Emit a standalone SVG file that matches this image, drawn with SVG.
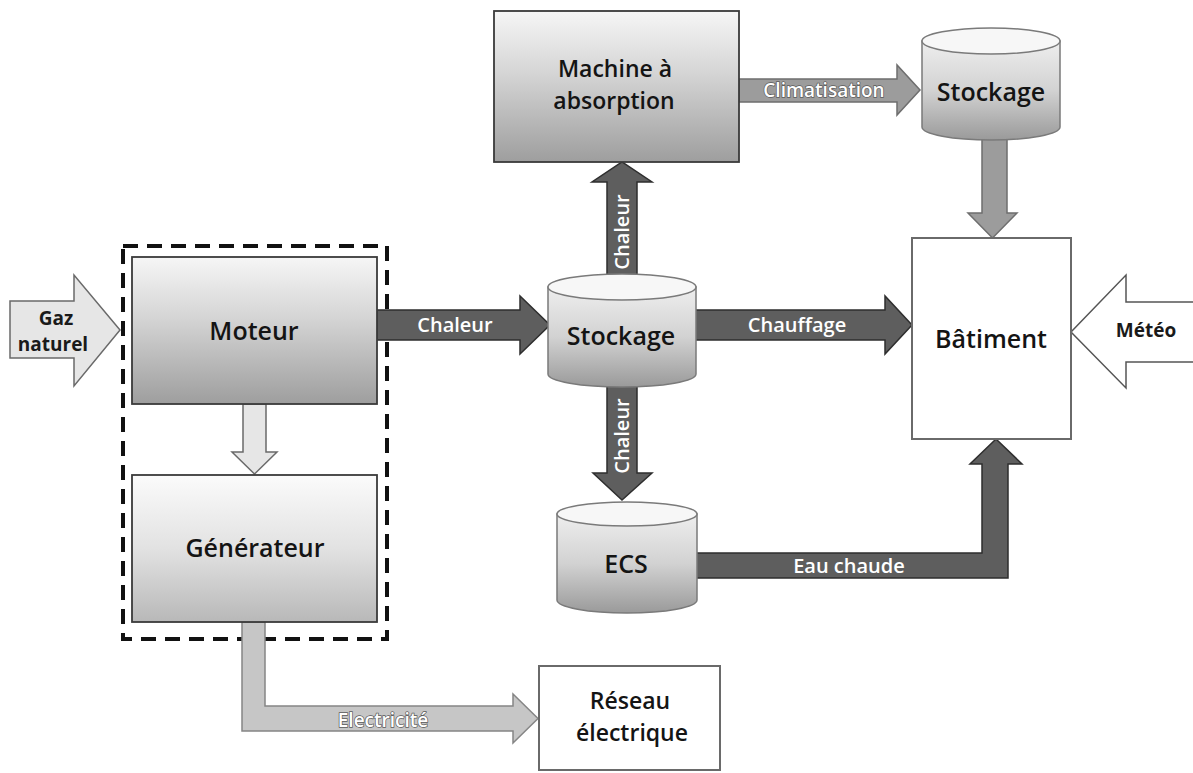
<svg xmlns="http://www.w3.org/2000/svg" width="1193" height="773" viewBox="0 0 1193 773">
<defs>
<linearGradient id="gBox" x1="0" y1="0" x2="0" y2="1">
<stop offset="0" stop-color="#f6f6f6"/><stop offset="0.4" stop-color="#d6d6d6"/><stop offset="1" stop-color="#9e9e9e"/>
</linearGradient>
<linearGradient id="gBoxL" x1="0" y1="0" x2="0" y2="1">
<stop offset="0" stop-color="#fbfbfb"/><stop offset="0.5" stop-color="#e2e2e2"/><stop offset="1" stop-color="#b8b8b8"/>
</linearGradient>
<linearGradient id="gCyl" x1="0" y1="0" x2="0" y2="1">
<stop offset="0" stop-color="#eeeeee"/><stop offset="0.5" stop-color="#d2d2d2"/><stop offset="1" stop-color="#9a9a9a"/>
</linearGradient>
<style>
.dark{fill:#5e5e5e;stroke:#2e2e2e;stroke-width:1.5}
.mid{fill:#9c9c9c;stroke:#6e6e6e;stroke-width:1.5}
.light{fill:#c6c6c6;stroke:#858585;stroke-width:1.5}
.pale{fill:#e6e6e6;stroke:#6a6a6a;stroke-width:1.5}
.white{fill:#ffffff;stroke:#555;stroke-width:1.5}
.box{fill:url(#gBox);stroke:#3a3a3a;stroke-width:1.8}
.boxl{fill:url(#gBoxL);stroke:#3a3a3a;stroke-width:1.8}
.plain{fill:#ffffff;stroke:#6a6a6a;stroke-width:2}
.cyl{fill:url(#gCyl);stroke:#7a7a7a;stroke-width:1.5}
.cyltop{fill:#f7f7f7;stroke:#7a7a7a;stroke-width:1.5}
text{font-family:"Open Sans","Liberation Sans",sans-serif;font-weight:600;text-anchor:middle}
.nl{font-size:25px;fill:#141414}
.nl2{font-size:23px;fill:#141414}
.al{font-size:20px;fill:#ffffff}
.ao{font-size:19px;fill:#ffffff;stroke:#5a5a5a;stroke-width:1.4;paint-order:stroke}
.bl{font-size:19px;fill:#1a1a1a;font-weight:700}
</style>
</defs>

<g id="cogeneration-boundary">
<rect x="123" y="246" width="264" height="393" fill="none" stroke="#111" stroke-width="4" stroke-dasharray="15 9"/>
</g>

<g id="connectors">
<g id="gaz-naturel">
<polygon class="pale" points="10,301 74,301 74,275 120,330 74,386 74,358 10,358"/>
<text class="bl" x="56" y="325">Gaz</text>
<text class="bl" x="53" y="351">naturel</text>
</g>
<g id="moteur-generateur">
<polygon class="pale" points="243,404 266,404 266,452 277,452 254.5,474 232,452 243,452"/>
</g>
<g id="chaleur-moteur">
<polygon class="dark" points="377,310 520,310 520,296 550,325 520,354 520,340 377,340"/>
<text class="al" x="455" y="332">Chaleur</text>
</g>
<g id="chauffage">
<polygon class="dark" points="690,310 885,310 885,296 912,325 885,354 885,340 690,340"/>
<text class="al" x="797" y="332">Chauffage</text>
</g>
<g id="chaleur-haut">
<polygon class="dark" points="607,290 607,182 592,182 622,162 652,182 637,182 637,290"/>
<text class="al" transform="translate(629,232) rotate(-90)">Chaleur</text>
</g>
<g id="chaleur-bas">
<polygon class="dark" points="607,370 637,370 637,473 652,473 622,500 593,473 607,473"/>
<text class="al" transform="translate(629,436) rotate(-90)">Chaleur</text>
</g>
<g id="climatisation">
<polygon class="mid" points="739,79 897,79 897,65 920,90 897,115 897,102 739,102"/>
<text class="ao" x="824" y="97">Climatisation</text>
</g>
<g id="stockage-batiment">
<polygon class="mid" points="982,130 1007,130 1007,213 1017,213 992.5,238 968,213 982,213"/>
</g>
<g id="meteo">
<polygon class="white" points="1196,302 1126,302 1126,275 1071,332 1126,388 1126,362 1196,362"/>
<text class="bl" x="1146" y="337">Météo</text>
</g>
<g id="eau-chaude">
<polygon class="dark" points="690,553 982,553 982,464 970,464 996,439 1022,464 1008,464 1008,578 690,578"/>
<text class="al" x="849" y="573">Eau chaude</text>
</g>
<g id="electricite">
<polygon class="light" points="242,622 265,622 265,706 513,706 513,694 538,718.5 513,743 513,731 242,731"/>
<text class="ao" x="383" y="727" font-size="20">Electricité</text>
</g>
</g>

<g id="moteur">
<rect class="box" x="132" y="257" width="245" height="147"/>
<text class="nl" x="254" y="340">Moteur</text>
</g>
<g id="generateur">
<rect class="boxl" x="132" y="475" width="245" height="147"/>
<text class="nl" x="255" y="557">Générateur</text>
</g>
<g id="machine-absorption">
<rect class="box" x="494" y="11" width="245" height="151"/>
<text class="nl2" x="615" y="77">Machine à</text>
<text class="nl2" x="614" y="109">absorption</text>
</g>
<g id="stockage-central">
<path class="cyl" d="M548,287 L548,374 A74,13 0 0 0 696,374 L696,287 Z"/>
<ellipse class="cyltop" cx="622" cy="287" rx="74" ry="13"/>
<text class="nl" x="621" y="345">Stockage</text>
</g>
<g id="stockage-froid">
<path class="cyl" d="M922,41 L922,127 A69,13 0 0 0 1060,127 L1060,41 Z"/>
<ellipse class="cyltop" cx="991" cy="41" rx="69" ry="13"/>
<text class="nl" x="991" y="101">Stockage</text>
</g>
<g id="ecs">
<path class="cyl" d="M557,514 L557,600 A70,13 0 0 0 697,600 L697,514 Z"/>
<ellipse class="cyltop" cx="627" cy="514" rx="70" ry="12"/>
<text class="nl" x="626" y="573">ECS</text>
</g>
<g id="batiment">
<rect class="plain" x="912" y="238" width="159" height="201"/>
<text class="nl" x="991" y="348">Bâtiment</text>
</g>
<g id="reseau-electrique">
<rect class="plain" x="539" y="666" width="181" height="104"/>
<text class="nl2" x="630" y="709">Réseau</text>
<text class="nl2" x="632" y="741">électrique</text>
</g>
</svg>
